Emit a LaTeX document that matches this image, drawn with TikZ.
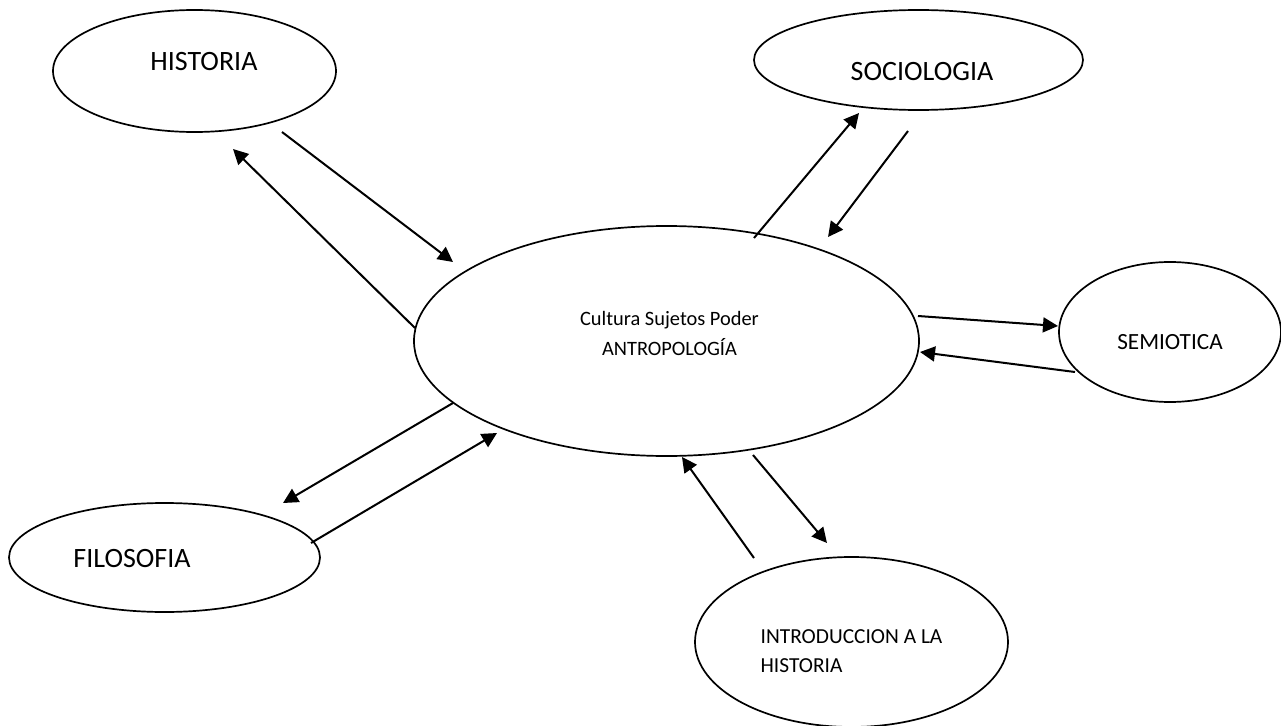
\documentclass[tikz,border=0pt]{standalone}
\usepackage{fontspec}
\setmainfont{Carlito}
\usetikzlibrary{shapes}
\usetikzlibrary{arrows.meta}
\tikzset{
	elipse/.style = {ellipse, draw=black, line width=0.85pt, inner sep=0pt},% nodo elipse
	rotulo/.style = {font=\fontsize{14}{17}\selectfont},% texto grande
	flecha/.style = {->, line width=1pt}% flecha entre nodos
}

\begin{document}
\begin{tikzpicture}[x=0.5pt,y=0.5pt,>={Triangle[length=7.5pt,width=7.5pt]}]
	\useasboundingbox (0,0) rectangle (1281,725);
	\node[elipse, minimum width=141.5pt, minimum height=61pt,
		label={[rotulo, xshift=4.75pt, yshift=4.5pt]center:HISTORIA}] (hist) at (194.5,654) {};
	\node[elipse, minimum width=164.5pt, minimum height=50pt,
		label={[rotulo, xshift=1.75pt, yshift=-6pt]center:SOCIOLOGIA}] (soc) at (918.5,665) {};
	\node[elipse, minimum width=252.5pt, minimum height=115pt,
		label={[font=\fontsize{10.2}{15}\selectfont, align=center, xshift=1.5pt, yshift=4pt]center:Cultura Sujetos Poder\\ANTROPOLOGÍA}] (cen) at (666.5,384) {};
	\node[elipse, minimum width=111pt, minimum height=70pt,
		label={[font=\fontsize{11.6}{14}\selectfont, yshift=-5pt]center:SEMIOTICA}] (sem) at (1170,393) {};
	\node[elipse, minimum width=155.5pt, minimum height=54.5pt,
		label={[rotulo, xshift=-16.25pt, yshift=-0.75pt]center:FILOSOFIA}] (fil) at (164.5,167.5) {};
	\node[elipse, minimum width=156.5pt, minimum height=85pt,
		label={[font=\fontsize{10.7}{14.5}\selectfont, align=left, yshift=-4.75pt]center:INTRODUCCION A LA\\HISTORIA}] (intro) at (851.5,83) {};

	% extremos de las flechas
	\coordinate (hc-a) at (282,593);  \coordinate (hc-b) at (453,463);
	\coordinate (ch-a) at (415,397);  \coordinate (ch-b) at (233,576);
	\coordinate (cs-a) at (754,487);  \coordinate (cs-b) at (859,612);
	\coordinate (sc-a) at (908,594);  \coordinate (sc-b) at (828,488);
	\coordinate (cm-a) at (918,409);  \coordinate (cm-b) at (1058,399);
	\coordinate (mc-a) at (1075,353); \coordinate (mc-b) at (920,373);
	\coordinate (cf-a) at (453,322);  \coordinate (cf-b) at (283,222);
	\coordinate (fc-a) at (311,182);  \coordinate (fc-b) at (497,292);
	\coordinate (ic-a) at (754,167);  \coordinate (ic-b) at (682,268);
	\coordinate (ci-a) at (753,270);  \coordinate (ci-b) at (827,182);

	\draw[flecha] (hc-a) -- (hc-b);
	\draw[flecha] (ch-a) -- (ch-b);
	\draw[flecha] (cs-a) -- (cs-b);
	\draw[flecha] (sc-a) -- (sc-b);
	\draw[flecha] (cm-a) -- (cm-b);
	\draw[flecha] (mc-a) -- (mc-b);
	\draw[flecha] (cf-a) -- (cf-b);
	\draw[flecha] (fc-a) -- (fc-b);
	\draw[flecha] (ic-a) -- (ic-b);
	\draw[flecha] (ci-a) -- (ci-b);
\end{tikzpicture}
\end{document}
